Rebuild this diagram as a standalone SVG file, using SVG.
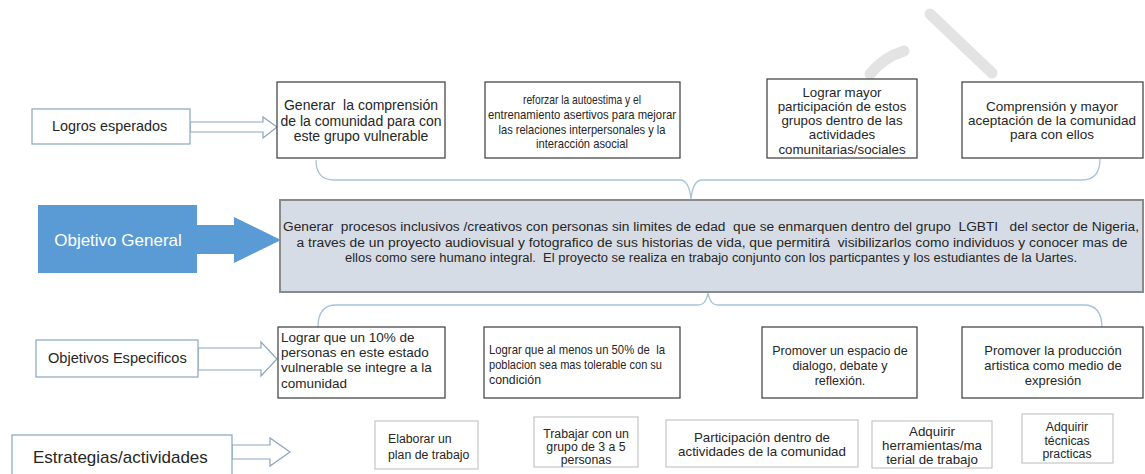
<svg xmlns="http://www.w3.org/2000/svg" width="1145" height="474" viewBox="0 0 1145 474" xml:space="preserve">
<style>
text{font-family:"Liberation Sans",Arial,sans-serif;fill:#262626;font-size:11.5px;white-space:pre}
.c{text-anchor:middle}
.box{fill:#fff;stroke:#3a3a3a;stroke-width:1.2}
.lbl{fill:#fff;stroke:#8ba5bf;stroke-width:1.2}
.arr{fill:#fff;stroke:#8ba5bf;stroke-width:1.2;stroke-linejoin:miter}
.brace{fill:none;stroke:#a7c3dc;stroke-width:1.3}
.sbox{fill:#fff;stroke:#c6c6c6;stroke-width:1.2}
.st{font-size:12.3px}
.sl{font-size:13.3px}
.n{font-size:12.8px}
</style>
<rect width="1145" height="474" fill="#fff"/>
<g id="watermark" fill="none" stroke="#e3e3e3" stroke-width="11" stroke-linecap="round">
<path d="M930,14 L992,73"/>
<path d="M870,74 Q884,57 904,51"/>
</g>
<g id="connectors">
<polygon class="arr" points="190,122 263,122 263,117 277,127 263,138 263,132 190,132"/>
<polygon fill="#5b9bd5" points="197,225 234,225 234,217 281,240 234,263 234,254 197,254"/>
<polygon class="arr" points="198,348 261,348 261,342 277,359 261,376 261,370 198,370"/>
<polygon class="arr" points="232,445 270,445 270,438 290,452 270,466 270,459 232,459"/>
<path class="brace" d="M316,160 Q316,180 334,180 L680,180 Q689,180 691,199 Q693,180 702,180 L1082,180 Q1100,180 1100,159"/>
<path class="brace" d="M318,327 Q318,305 336,305 L698,305 Q706,305 708,293 Q710,305 718,305 L1084,305 Q1102,305 1102,328"/>
</g>
<g id="logros">
<rect class="lbl" x="32" y="109" width="158" height="35"/>
<text x="52" y="131" style="font-size:14.4px">Logros esperados</text>
</g>
<g id="l1">
<rect class="box" x="277" y="82" width="168" height="76"/>
<text class="c" x="361" y="110" style="font-size:14px">Generar  la comprensión</text>
<text class="c" x="361" y="126" style="font-size:14px">de la comunidad para con</text>
<text class="c" x="361" y="141" style="font-size:14px">este grupo vulnerable</text>
</g>
<g id="l2">
<rect class="box" x="485" y="82" width="195" height="76"/>
<text class="c n" x="582" y="104" textLength="118" lengthAdjust="spacingAndGlyphs">reforzar la autoestima y el</text>
<text class="c n" x="582" y="119" textLength="188" lengthAdjust="spacingAndGlyphs">entrenamiento asertivos para mejorar</text>
<text class="c n" x="582" y="134" textLength="167" lengthAdjust="spacingAndGlyphs">las relaciones interpersonales y la</text>
<text class="c n" x="582" y="148" textLength="92" lengthAdjust="spacingAndGlyphs">interacción asocial</text>
</g>
<g id="l3">
<rect class="box" x="767" y="79" width="150" height="79"/>
<text class="c sl" x="842" y="97">Lograr mayor</text>
<text class="c sl" x="842" y="111">participación de estos</text>
<text class="c sl" x="842" y="125">grupos dentro de las</text>
<text class="c sl" x="842" y="139">actividades</text>
<text class="c sl" x="842" y="154">comunitarias/sociales</text>
</g>
<g id="l4">
<rect class="box" x="962" y="82" width="181" height="76"/>
<text class="c" x="1052" y="111" style="font-size:13.5px">Comprensión y mayor</text>
<text class="c" x="1052" y="125" style="font-size:13.5px">aceptación de la comunidad</text>
<text class="c" x="1052" y="139" style="font-size:13.5px">para con ellos</text>
</g>
<g id="objetivo-general">
<rect x="38" y="205" width="159" height="68" fill="#5b9bd5"/>
<text x="118" y="246" class="c" style="fill:#fff;font-size:17px">Objetivo General</text>
</g>
<g id="general-text">
<rect x="280" y="200" width="863" height="92" fill="#d6dce5" stroke="#8a8a8a" stroke-width="2"/>
<text class="c" x="711" y="231" style="font-size:12px" textLength="856" lengthAdjust="spacingAndGlyphs">Generar  procesos inclusivos /creativos con personas sin limites de edad  que se enmarquen dentro del grupo  LGBTI   del sector de Nigeria,</text>
<text class="c" x="712" y="247" style="font-size:12px" textLength="831" lengthAdjust="spacingAndGlyphs">a traves de un proyecto audiovisual y fotografico de sus historias de vida, que permitirá  visibilizarlos como individuos y conocer mas de</text>
<text class="c" x="711" y="262" style="font-size:12px" textLength="732" lengthAdjust="spacingAndGlyphs">ellos como sere humano integral.  El proyecto se realiza en trabajo conjunto con los particpantes y los estudiantes de la Uartes.</text>
</g>
<g id="objetivos">
<rect class="lbl" x="36" y="340" width="162" height="37"/>
<text x="48" y="363" style="font-size:14.6px">Objetivos Especificos</text>
</g>
<g id="o1">
<rect class="box" x="278" y="327" width="167" height="71"/>
<text x="281" y="342" style="font-size:13.5px">Lograr que un 10% de</text>
<text x="281" y="357" style="font-size:13.5px">personas en este estado</text>
<text x="281" y="372" style="font-size:13.5px">vulnerable se integre a la</text>
<text x="281" y="388" style="font-size:13.5px">comunidad</text>
</g>
<g id="o2">
<rect class="box" x="484" y="327" width="196" height="71"/>
<text class="n" x="489" y="354" textLength="176" lengthAdjust="spacingAndGlyphs">Lograr que al menos un 50% de  la</text>
<text class="n" x="489" y="369" textLength="173" lengthAdjust="spacingAndGlyphs">poblacion sea mas tolerable con su</text>
<text class="n" x="489" y="384" textLength="52" lengthAdjust="spacingAndGlyphs">condición</text>
</g>
<g id="o3">
<rect class="box" x="762" y="327" width="155" height="71"/>
<text class="c" x="840" y="355" style="font-size:12.5px">Promover un espacio de</text>
<text class="c" x="840" y="370" style="font-size:12.5px">dialogo, debate y</text>
<text class="c" x="840" y="385" style="font-size:12.5px">reflexión.</text>
</g>
<g id="o4">
<rect class="box" x="962" y="327" width="181" height="71"/>
<text class="c" x="1053" y="355" style="font-size:13px">Promover la producción</text>
<text class="c" x="1053" y="370" style="font-size:13px">artistica como medio de</text>
<text class="c" x="1053" y="385" style="font-size:13px">expresión</text>
</g>
<g id="estrategias">
<rect class="lbl" x="12" y="435" width="220" height="45"/>
<text x="33" y="463" style="font-size:17px">Estrategias/actividades</text>
</g>
<g id="s1">
<rect class="sbox" x="375" y="421" width="103" height="48"/>
<text class="st" x="388" y="443">Elaborar un</text>
<text class="st" x="388" y="459">plan de trabajo</text>
</g>
<g id="s2">
<rect class="sbox" x="534" y="417" width="104" height="50"/>
<text class="st c" x="586" y="438">Trabajar con un</text>
<text class="st c" x="586" y="451">grupo de 3 a 5</text>
<text class="st c" x="586" y="464">personas</text>
</g>
<g id="s3">
<rect class="sbox" x="666" y="420" width="192" height="47"/>
<text class="sl c" x="762" y="442">Participación dentro de</text>
<text class="sl c" x="762" y="456">actividades de la comunidad</text>
</g>
<g id="s4">
<rect class="sbox" x="872" y="421" width="120" height="47"/>
<text class="sl c" x="932" y="436">Adquirir</text>
<text class="sl c" x="932" y="450">herramientas/ma</text>
<text class="sl c" x="932" y="464">terial de trabajo</text>
</g>
<g id="s5">
<rect class="sbox" x="1022" y="414" width="91" height="49"/>
<text class="st c" x="1067" y="431">Adquirir</text>
<text class="st c" x="1067" y="445">técnicas</text>
<text class="st c" x="1067" y="458">practicas</text>
</g>
</svg>
